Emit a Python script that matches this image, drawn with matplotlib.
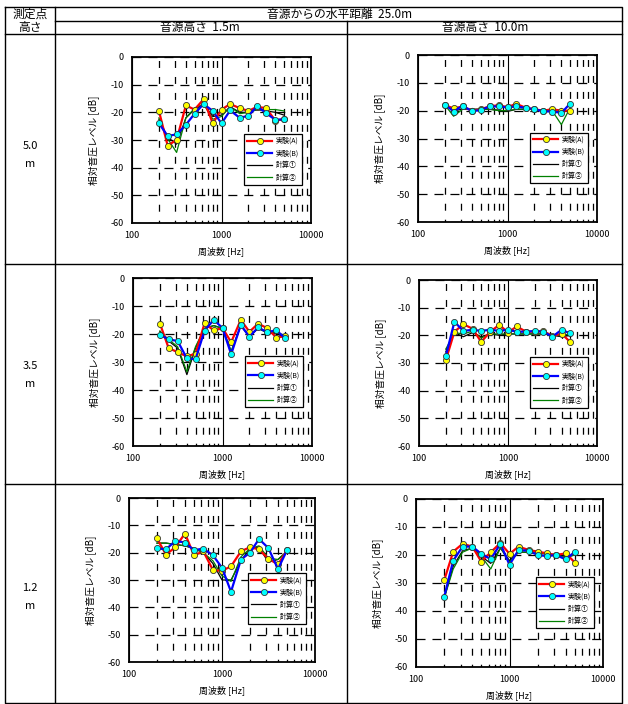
import matplotlib
matplotlib.use("Agg")
import matplotlib.pyplot as plt
from matplotlib.ticker import LogLocator, NullFormatter, FixedLocator

plt.rcParams['font.family'] = ['Noto Sans CJK JP', 'DejaVu Sans']
plt.rcParams['axes.unicode_minus'] = False
plt.rcParams['lines.scale_dashes'] = False

W, H = 628, 704

freq = [200, 250, 315, 400, 500, 630, 800, 1000, 1250, 1600, 2000, 2500, 3150, 4000, 5000]

# Row 5.0 m, source 1.5 m
tl_A = [-19.5, -32, -30, -17.5, -19, -15.3, -24, -19, -17, -18.5, -19.5, -18, -18.5, -23, -22.5]
tl_B = [-24, -28.5, -28, -24.5, -20.5, -17, -19.5, -24, -19.3, -22, -21.2, -17.8, -20.3, -22.7, -22.5]
tl_C1 = [-22.5, -29, -31.5, -22, -19, -17, -21.5, -21, -18, -20, -20, -19, -19.5, -20, -21]
tl_C2 = [-22, -29.5, -34.5, -22, -18.5, -17, -22.5, -21.5, -18, -20.5, -20, -19, -19, -19, -19.5]
# Row 5.0 m, source 10.0 m
tr_A = [-18, -19.2, -18.5, -20, -19.5, -18.5, -18, -18.8, -17.5, -19, -19.5, -20, -19.5, -20, -20]
tr_B = [-17.8, -20.3, -18.2, -20.2, -19.8, -18.5, -18.5, -18.8, -18.5, -19, -19.5, -20.2, -20.3, -20.8, -17.5]
tr_C1 = [-18, -20, -19.5, -19.5, -19.5, -19.5, -19.8, -20.3, -19.5, -19.5, -19.5, -19.8, -20, -20.3, -20]
tr_C2 = [-18, -22, -19.5, -19.5, -19.5, -19.5, -20, -20, -19.5, -19.5, -19.5, -20, -20, -25, -19]
# Row 3.5 m, source 1.5 m
ml_A = [-16.3, -25, -26.5, -28, -27, -16.2, -18.7, -17.9, -22.9, -15, -19.2, -16.3, -17.9, -21.3, -20.8]
ml_B = [-20.3, -21.9, -22.5, -28.7, -29, -18.8, -14.9, -17.9, -27.2, -16.8, -21, -17.6, -19.4, -18.6, -21.6]
ml_C1 = [-19, -22.5, -25, -34.5, -25, -18, -17, -18, -26.5, -17, -21, -18, -19.5, -20, -21]
ml_C2 = [-19, -22, -24.5, -33.5, -24.5, -18, -17, -18, -26, -17, -20.5, -18, -19.5, -19.5, -20.5]
# Row 3.5 m, source 10.0 m
mr_A = [-29, -18.7, -16, -17.6, -22.4, -18.7, -16.2, -19, -16.8, -18.7, -18.7, -18.5, -20.2, -19.4, -22.4]
mr_B = [-27.6, -15.1, -18.4, -18, -18.4, -18, -18.4, -18, -18.7, -18.7, -18.4, -18.7, -20.5, -18, -19.3]
mr_C1 = [-26, -19, -20.5, -19, -20.5, -19.5, -20, -19.5, -19.5, -19.5, -19.5, -19.5, -20, -20.5, -20]
mr_C2 = [-25, -19, -19.5, -18.5, -21, -19.5, -19.5, -19.5, -19.5, -19.5, -19.5, -19.5, -20, -20, -19.5]
# Row 1.2 m, source 1.5 m
bl_A = [-14.8, -20.7, -18, -13, -21, -19.5, -26.4, -26.6, -25, -19.5, -18, -18.8, -22.2, -24.3, -19.2]
bl_B = [-18.4, -18.8, -15.7, -16.3, -19.1, -18.5, -21, -25.5, -34.3, -22.5, -20, -15, -18.3, -26, -19.1]
bl_C1 = [-16.5, -16.5, -17, -17.5, -18.5, -20, -24, -30, -30, -23, -18.5, -18, -23.5, -22.5, -19.5]
bl_C2 = [-16.5, -16.5, -17, -17.5, -18.5, -20, -23, -28.5, -30.5, -21.5, -18.5, -17.5, -22, -22.5, -19.5]
# Row 1.2 m, source 10.0 m
br_A = [-29.1, -18.8, -16, -17, -22.4, -19, -15.7, -19.6, -17, -18.2, -18.8, -19.4, -20, -19.4, -22.7]
br_B = [-35, -22, -17, -17, -19.6, -21.5, -16, -23.5, -18.2, -18.5, -20, -20.4, -20, -21.6, -18.8]
br_C1 = [-35.5, -24, -18.5, -17.5, -20.5, -23, -17.5, -22, -19, -19, -19.5, -19.5, -20, -20.5, -20]
br_C2 = [-35.5, -25, -19, -17.5, -20.5, -25, -17.5, -22.5, -19, -19, -19.5, -19.5, -20, -21, -20]

series_labels = ['実験(A)', '実験(B)', '計算①', '計算②']
yticks = [0, -10, -20, -30, -40, -50, -60]
xticks = [100, 1000, 10000]
xlabel = '周波数 [Hz]'
ylabel = '相対音圧レベル [dB]'

header_top = '音源からの水平距離  25.0m'
header_src = ['音源高さ  1.5m', '音源高さ  10.0m']
corner = ['測定点', '高さ']
row_labels = ['5.0\nm', '3.5\nm', '1.2\nm']

fig = plt.figure(figsize=(W / 100, H / 100), dpi=100)
fig.patch.set_facecolor('white')

# table frame in pixel coordinates
bg = fig.add_axes([0, 0, 1, 1])
bg.set_xlim(0, W)
bg.set_ylim(H, 0)
bg.axis('off')
lk = dict(color='black', lw=1.0)
L, R, T, B = 5, 622, 7, 703
cx, mx = 55, 347
bg.plot([L, R, R, L, L], [T, T, B, B, T], **lk)
bg.plot([cx, cx], [T, B], **lk)
bg.plot([mx, mx], [21, B], **lk)
bg.plot([cx, R], [21, 21], **lk)
bg.plot([L, R], [34, 34], **lk)
bg.plot([L, R], [264, 264], **lk)
bg.plot([L, R], [484, 484], **lk)
bg.text(30, 14, corner[0], ha='center', va='center', fontsize=8.5)
bg.text(30, 28, corner[1], ha='center', va='center', fontsize=8.5)
bg.text(340, 14, header_top, ha='center', va='center', fontsize=8.5)
bg.text(200, 28, header_src[0], ha='center', va='center', fontsize=8.5)
bg.text(485, 28, header_src[1], ha='center', va='center', fontsize=8.5)
for lab, yc in zip(row_labels, [155, 375, 597]):
    bg.text(30, yc, lab, ha='center', va='center', fontsize=8, linespacing=1.9)

panels = [
    ((132, 57, 311, 223), tl_A, tl_B, tl_C1, tl_C2),
    ((418, 55, 597, 222), tr_A, tr_B, tr_C1, tr_C2),
    ((133, 278, 312, 446), ml_A, ml_B, ml_C1, ml_C2),
    ((419, 280, 597, 446), mr_A, mr_B, mr_C1, mr_C2),
    ((129, 498, 315, 662), bl_A, bl_B, bl_C1, bl_C2),
    ((416, 499, 603, 667), br_A, br_B, br_C1, br_C2),
]

for (l, t, r, b), A, Bv, C1, C2 in panels:
    ax = fig.add_axes([l / W, 1 - b / H, (r - l) / W, (b - t) / H])
    ax.set_xscale('log')
    ax.set_xlim(100, 10000)
    ax.set_ylim(-60, 0)
    ax.xaxis.set_major_locator(FixedLocator(xticks))
    ax.set_xticks(xticks)
    ax.set_xticklabels([str(v) for v in xticks])
    ax.xaxis.set_minor_locator(LogLocator(base=10, subs=range(2, 10)))
    ax.xaxis.set_minor_formatter(NullFormatter())
    ax.set_yticks(yticks)
    ax.set_yticklabels([str(v) for v in yticks])
    ax.tick_params(which='both', length=0, labelsize=6.5, pad=6)
    ax.grid(True, which='major', axis='x', color='black', lw=0.8, ls='-')
    ax.grid(True, which='minor', axis='x', color='black', lw=0.9, ls=(3, (5, 6.5)))
    ax.grid(True, which='major', axis='y', color='black', lw=0.9, ls=(0, (6.5, 5)))
    for s in ax.spines.values():
        s.set_linewidth(1.3)
    ax.plot(freq, A, color='#ff0000', lw=1.6, marker='o', ms=4.4,
            mfc='#ffff00', mec='#333333', mew=0.6, label=series_labels[0], zorder=4)
    ax.plot(freq, Bv, color='#0000ff', lw=1.6, marker='o', ms=4.4,
            mfc='#00ffff', mec='#333333', mew=0.6, label=series_labels[1], zorder=4)
    ax.plot(freq, C1, color='black', lw=0.9, label=series_labels[2], zorder=3)
    ax.plot(freq, C2, color='#008000', lw=0.9, label=series_labels[3], zorder=3)
    ax.set_xlabel(xlabel, fontsize=6.5, labelpad=4)
    ax.set_ylabel(ylabel, fontsize=7, labelpad=8)
    leg = ax.legend(loc='lower right', bbox_to_anchor=(0.97, 0.21), fontsize=5,
                    frameon=True, fancybox=False, edgecolor='black', framealpha=1,
                    handlelength=3.6, borderpad=0.45, labelspacing=0.6, handletextpad=0.5)
    leg.get_frame().set_linewidth(0.9)
    leg.set_zorder(6)

fig.savefig('out.png', dpi=100, facecolor='white')
